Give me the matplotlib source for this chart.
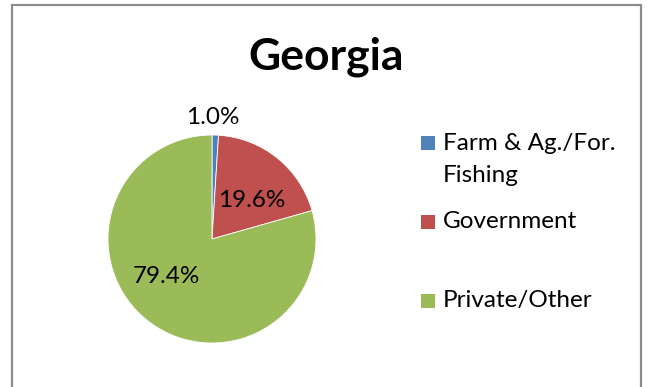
import matplotlib.pyplot as plt
from matplotlib.patches import Rectangle

categories = ["Farm & Ag./For.\nFishing", "Government", "Private/Other"]
shares = [1.0, 19.6, 79.4]
colors = ["#4F81BD", "#C0504D", "#9BBB59"]

plt.rcParams['font.family'] = ['Lato', 'DejaVu Sans']

W, H = 647, 387
fig = plt.figure(figsize=(W / 100, H / 100), dpi=100)

# chart frame (bottom edge runs off the picture)
fig.patches.append(Rectangle((12 / W, -0.05), 629 / W, 1.05 - 5 / H,
                             transform=fig.transFigure, fill=False,
                             edgecolor="#8c8c8c", linewidth=1.6))

fig.text(326 / W, 1 - 57 / H, "Georgia", ha="center", va="center",
         fontsize=32, fontweight="bold")

# pie: centre (212, 239) px, radius 104 px
cx, cy, r = 212, 239, 104
ax = fig.add_axes([(cx - r) / W, (H - cy - r) / H, 2 * r / W, 2 * r / H])
ax.pie(shares, colors=colors, startangle=90, counterclock=False, radius=1,
       wedgeprops=dict(linewidth=0.6, edgecolor="white"))
ax.set_xlim(-1, 1)
ax.set_ylim(-1, 1)
ax.set_aspect("equal")
ax.axis("off")

label_pos = [(0.01, 1.17), (0.38, 0.37), (-0.44, -0.36)]
for v, (x, y) in zip(shares, label_pos):
    ax.text(x, y, f"{v:.1f}%", ha="center", va="center", fontsize=17.5,
            clip_on=False)

# legend drawn by hand to keep the uneven spacing
legend_y = [143, 222, 301]
for cat, col, y in zip(categories, colors, legend_y):
    fig.patches.append(Rectangle((421 / W, 1 - (y + 7) / H), 14 / W, 14 / H,
                                 transform=fig.transFigure, facecolor=col,
                                 edgecolor="none"))
    for i, line in enumerate(cat.split("\n")):
        fig.text(443 / W, 1 - (y + 32 * i) / H, line, ha="left",
                 va="center", fontsize=17.5)

fig.savefig("out.png", dpi=100)
